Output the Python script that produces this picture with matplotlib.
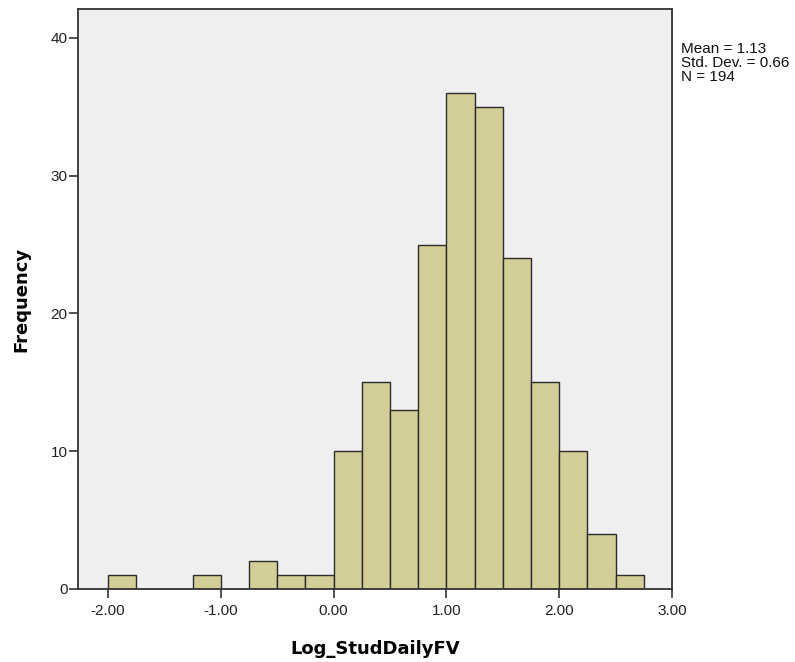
import matplotlib.pyplot as plt
import numpy as np

# histogram bins (left edges) and counts
bin_left = [-2.00, -1.75, -1.50, -1.25, -1.00, -0.75, -0.50, -0.25, 0.00, 0.25,
            0.50, 0.75, 1.00, 1.25, 1.50, 1.75, 2.00, 2.25, 2.50]
counts = [1, 0, 0, 1, 0, 2, 1, 1, 10, 15, 13, 25, 36, 35, 24, 15, 10, 4, 1]
bin_width = 0.25
x_ticks = [-2.0, -1.0, 0.0, 1.0, 2.0, 3.0]
x_tick_labels = ['-2.00', '-1.00', '0.00', '1.00', '2.00', '3.00']
y_ticks = [0, 10, 20, 30, 40]
stats = ['Mean = 1.13', 'Std. Dev. = 0.66', 'N = 194']

plt.rcParams['font.family'] = ['Liberation Sans', 'DejaVu Sans']

fig = plt.figure(figsize=(7.95, 6.62), dpi=100)
ax = fig.add_axes([78/795, 1 - 589/662, (672-78)/795, (589-9)/662])
ax.set_facecolor('#efefef')

ax.bar(bin_left, counts, width=bin_width, align='edge',
       color='#d3ce97', edgecolor='#2b2b2b', linewidth=1.0)

ax.set_xlim(-2.267, 3.0)
ax.set_ylim(0, 42.1)
ax.set_xticks(x_ticks)
ax.set_xticklabels(x_tick_labels)
ax.set_yticks(y_ticks)
ax.tick_params(axis='both', direction='out', length=6.5, width=1.2,
               color='#333333', labelsize=11, labelcolor='#222222')
ax.tick_params(axis='y', pad=1)
ax.tick_params(axis='x', pad=4)
for s in ax.spines.values():
    s.set_color('#333333')
    s.set_linewidth(1.3)

ax.set_xlabel('Log_StudDailyFV', fontsize=13, fontweight='bold', family='DejaVu Sans')
ax.set_ylabel('Frequency', fontsize=13, fontweight='bold', family='DejaVu Sans')
ax.xaxis.set_label_coords(0.5, -(640 - 589) / 580)
ax.yaxis.set_label_coords(-(78 - 30) / 594, 0.5)

fig.text(681/795, 1 - 42/662, '\n'.join(stats), fontsize=11,
         va='top', ha='left', linespacing=0.98, color='#111111')

fig.savefig('out.png', dpi=100)
